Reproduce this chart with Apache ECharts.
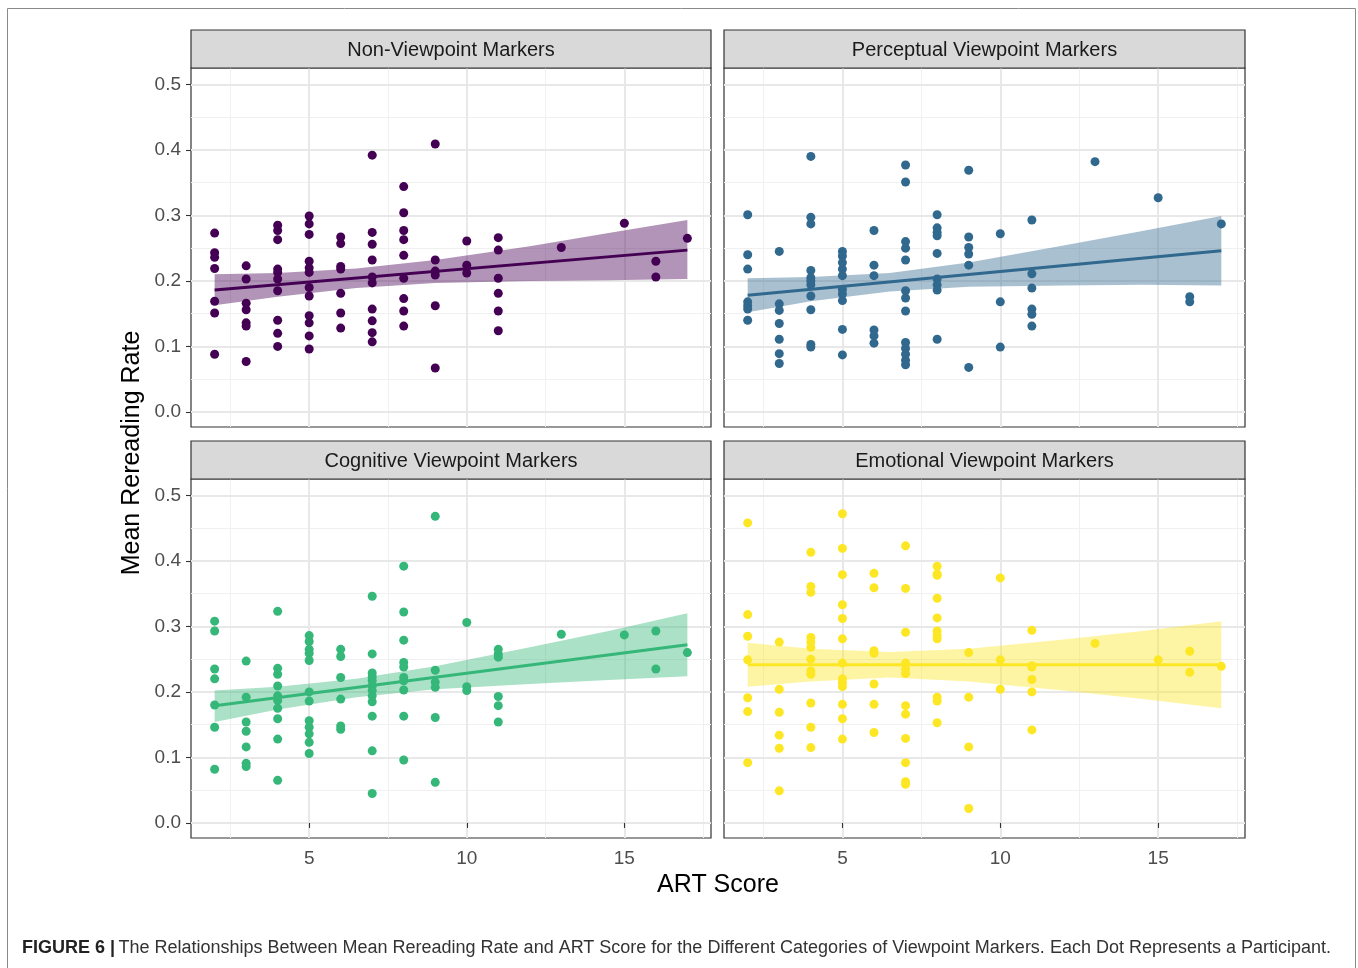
<!DOCTYPE html>
<html><head><meta charset="utf-8">
<script src="https://cdn.jsdelivr.net/npm/echarts@6/dist/echarts.min.js"></script>
<style>html,body{margin:0;padding:0;background:#fff}#c{width:1358px;height:968px}</style>
</head><body><div id="c"></div>
<script>
// ART score levels present in every panel
const artScores = [2, 3, 4, 5, 6, 7, 8, 9, 10, 11, 13, 15, 16, 17];

// Mean rereading rates, grouped by ART score (same order as artScores)
const nonViewpointRates = [
  [0.273, 0.243, 0.236, 0.219, 0.169, 0.151, 0.088],
  [0.223, 0.203, 0.166, 0.156, 0.136, 0.131, 0.077],
  [0.285, 0.277, 0.263, 0.218, 0.213, 0.203, 0.185, 0.140, 0.120, 0.100],
  [0.299, 0.287, 0.271, 0.230, 0.220, 0.213, 0.190, 0.177, 0.147, 0.136, 0.116, 0.096],
  [0.267, 0.257, 0.222, 0.218, 0.181, 0.151, 0.128],
  [0.392, 0.274, 0.256, 0.232, 0.206, 0.197, 0.157, 0.139, 0.121, 0.107],
  [0.344, 0.304, 0.277, 0.263, 0.239, 0.204, 0.173, 0.154, 0.131],
  [0.409, 0.232, 0.215, 0.209, 0.162, 0.067],
  [0.261, 0.224, 0.212],
  [0.266, 0.247, 0.204, 0.181, 0.154, 0.124],
  [0.251],
  [0.288],
  [0.230, 0.206],
  [0.265]
];
const perceptualRates = [
  [0.301, 0.240, 0.218, 0.168, 0.162, 0.157, 0.140],
  [0.245, 0.165, 0.155, 0.135, 0.111, 0.089, 0.074],
  [0.390, 0.297, 0.287, 0.216, 0.205, 0.200, 0.194, 0.177, 0.156, 0.103, 0.099],
  [0.245, 0.238, 0.228, 0.218, 0.208, 0.187, 0.180, 0.170, 0.126, 0.087],
  [0.277, 0.224, 0.208, 0.125, 0.116, 0.105],
  [0.377, 0.351, 0.260, 0.250, 0.232, 0.185, 0.174, 0.154, 0.106, 0.097, 0.088, 0.079, 0.072],
  [0.301, 0.281, 0.274, 0.269, 0.242, 0.203, 0.194, 0.186, 0.111],
  [0.369, 0.267, 0.251, 0.241, 0.224, 0.068],
  [0.272, 0.168, 0.099],
  [0.293, 0.211, 0.189, 0.157, 0.149, 0.131],
  [0.382],
  [0.327],
  [0.176, 0.168],
  [0.287]
];
const cognitiveRates = [
  [0.308, 0.293, 0.235, 0.220, 0.180, 0.146, 0.082],
  [0.247, 0.192, 0.154, 0.140, 0.116, 0.091, 0.086],
  [0.323, 0.236, 0.227, 0.209, 0.194, 0.187, 0.175, 0.159, 0.128, 0.065],
  [0.286, 0.277, 0.265, 0.259, 0.248, 0.200, 0.186, 0.156, 0.146, 0.136, 0.123, 0.106],
  [0.265, 0.254, 0.222, 0.189, 0.148, 0.143],
  [0.346, 0.258, 0.229, 0.223, 0.217, 0.209, 0.202, 0.194, 0.185, 0.163, 0.110, 0.045],
  [0.392, 0.322, 0.279, 0.245, 0.238, 0.222, 0.217, 0.203, 0.163, 0.096],
  [0.468, 0.233, 0.215, 0.207, 0.161, 0.062],
  [0.306, 0.208, 0.202],
  [0.265, 0.258, 0.253, 0.193, 0.179, 0.154],
  [0.288],
  [0.287],
  [0.293, 0.235],
  [0.260]
];
const emotionalRates = [
  [0.458, 0.318, 0.285, 0.249, 0.191, 0.170, 0.092],
  [0.276, 0.204, 0.169, 0.134, 0.114, 0.049],
  [0.413, 0.361, 0.352, 0.283, 0.276, 0.268, 0.250, 0.232, 0.227, 0.183, 0.146, 0.115],
  [0.472, 0.419, 0.379, 0.333, 0.312, 0.281, 0.244, 0.220, 0.214, 0.208, 0.181, 0.159, 0.128],
  [0.381, 0.359, 0.263, 0.259, 0.212, 0.181, 0.138],
  [0.423, 0.358, 0.291, 0.244, 0.235, 0.228, 0.179, 0.166, 0.129, 0.092, 0.063, 0.059],
  [0.392, 0.380, 0.378, 0.343, 0.313, 0.293, 0.286, 0.281, 0.192, 0.186, 0.153],
  [0.260, 0.192, 0.116, 0.022],
  [0.374, 0.249, 0.204],
  [0.294, 0.240, 0.238, 0.219, 0.200, 0.142],
  [0.274],
  [0.249],
  [0.262, 0.230],
  [0.239]
];

// Fitted regression lines (value at ART = 2 and ART = 17)
const fitX = [2, 17];
const nonViewpointFit = [0.186, 0.247];
const perceptualFit = [0.178, 0.246];
const cognitiveFit = [0.179, 0.272];
const emotionalFit = [0.2416, 0.2416];

// Confidence bands read at these ART scores
const bandX = [2, 4, 6.5, 9, 12, 14.5, 17];
const nonViewpointUpper = [0.210, 0.212, 0.219, 0.232, 0.253, 0.273, 0.293];
const nonViewpointLower = [0.163, 0.176, 0.189, 0.197, 0.200, 0.201, 0.203];
const perceptualUpper = [0.204, 0.206, 0.212, 0.228, 0.254, 0.276, 0.299];
const perceptualLower = [0.152, 0.169, 0.184, 0.191, 0.193, 0.194, 0.193];
const cognitiveUpper = [0.202, 0.208, 0.220, 0.239, 0.268, 0.293, 0.320];
const cognitiveLower = [0.154, 0.173, 0.192, 0.204, 0.212, 0.218, 0.224];
const emotionalUpper = [0.275, 0.266, 0.261, 0.266, 0.280, 0.293, 0.308];
const emotionalLower = [0.208, 0.216, 0.222, 0.216, 0.202, 0.189, 0.175];

// Titles and ticks
const panelTitles = ['Non-Viewpoint Markers', 'Perceptual Viewpoint Markers', 'Cognitive Viewpoint Markers', 'Emotional Viewpoint Markers'];
const xTicks = [5, 10, 15];
const xMinorTicks = [2.5, 7.5, 12.5, 17.5];
const yTicks = [0, 0.1, 0.2, 0.3, 0.4, 0.5];
const yMinorTicks = [0.05, 0.15, 0.25, 0.35, 0.45];
const xAxisTitle = 'ART Score';
const yAxisTitle = 'Mean Rereading Rate';
const captionBold = 'FIGURE 6 |';
const captionText = 'The Relationships Between Mean Rereading Rate and ART Score for the Different Categories of Viewpoint Markers. Each Dot Represents a Participant.';

const panels = [
  { rates: nonViewpointRates, fit: nonViewpointFit, upper: nonViewpointUpper, lower: nonViewpointLower, color: '#440154' },
  { rates: perceptualRates, fit: perceptualFit, upper: perceptualUpper, lower: perceptualLower, color: '#31688E' },
  { rates: cognitiveRates, fit: cognitiveFit, upper: cognitiveUpper, lower: cognitiveLower, color: '#35B779' },
  { rates: emotionalRates, fit: emotionalFit, upper: emotionalUpper, lower: emotionalLower, color: '#FDE725' }
];

const gridPos = [
  { left: 191, top: 68, width: 520, height: 359 },
  { left: 724, top: 68, width: 521, height: 359 },
  { left: 191, top: 479, width: 520, height: 359 },
  { left: 724, top: 479, width: 521, height: 359 }
];
const FONT = '"Liberation Sans", Arial, Helvetica, sans-serif';

function pointsOf(rates) {
  const out = [];
  rates.forEach((arr, i) => arr.forEach(v => out.push([artScores[i], v])));
  return out;
}

const grids = [], xAxes = [], yAxes = [], series = [], graphics = [];

gridPos.forEach((g, i) => {
  const bottomRow = i >= 2, leftCol = i % 2 === 0;
  grids.push(Object.assign({ show: true, borderColor: '#333333', borderWidth: 1.2, backgroundColor: '#ffffff', containLabel: false }, g));
  xAxes.push({
    type: 'value', gridIndex: i, min: 1.25, max: 17.75,
    splitLine: { show: false }, axisLine: { show: false },
    axisTick: { show: bottomRow, customValues: xTicks, length: 5, lineStyle: { color: '#333333', width: 1.1 } },
    axisLabel: { show: bottomRow, customValues: xTicks, color: '#4d4d4d', fontSize: 19, fontFamily: FONT, margin: 11 }
  });
  yAxes.push({
    type: 'value', gridIndex: i, min: -0.023, max: 0.525,
    splitLine: { show: false }, axisLine: { show: false },
    axisTick: { show: leftCol, customValues: yTicks, length: 5, lineStyle: { color: '#333333', width: 1.1 } },
    axisLabel: { show: leftCol, customValues: yTicks, color: '#4d4d4d', fontSize: 19, fontFamily: FONT, margin: 10,
      formatter: v => Number(v).toFixed(1) }
  });

  const p = panels[i];
  const gridLines = [];
  xMinorTicks.forEach(v => gridLines.push({ xAxis: v, lineStyle: { color: '#f0f0f0', width: 1, type: 'solid' } }));
  yMinorTicks.forEach(v => gridLines.push({ yAxis: v, lineStyle: { color: '#f0f0f0', width: 1, type: 'solid' } }));
  xTicks.forEach(v => gridLines.push({ xAxis: v, lineStyle: { color: '#e8e8e8', width: 2, type: 'solid' } }));
  yTicks.forEach(v => gridLines.push({ yAxis: v, lineStyle: { color: '#e8e8e8', width: 2, type: 'solid' } }));

  series.push({
    type: 'line', xAxisIndex: i, yAxisIndex: i, data: [], z: 0, silent: true, animation: false,
    markLine: { silent: true, z: 0, zlevel: 0, animation: false, symbol: ['none', 'none'], label: { show: false }, emphasis: { disabled: true }, data: gridLines }
  });
  series.push({
    type: 'scatter', xAxisIndex: i, yAxisIndex: i, data: pointsOf(p.rates), symbolSize: 9,
    itemStyle: { color: p.color, opacity: 1 }, z: 3, animation: false
  });
  series.push({
    type: 'custom', xAxisIndex: i, yAxisIndex: i, data: [[bandX[0], p.lower[0]]], z: 4, silent: true, animation: false,
    clip: true,
    renderItem: (params, api) => {
      const pts = [];
      bandX.forEach((x, k) => pts.push(api.coord([x, p.upper[k]])));
      for (let k = bandX.length - 1; k >= 0; k--) pts.push(api.coord([bandX[k], p.lower[k]]));
      return { type: 'polygon', shape: { points: pts, smooth: 0 }, style: { fill: p.color, opacity: 0.42 } };
    }
  });
  series.push({
    type: 'line', xAxisIndex: i, yAxisIndex: i, data: fitX.map((x, k) => [x, p.fit[k]]),
    symbol: 'none', lineStyle: { color: p.color, width: 3 }, z: 5, silent: true, animation: false
  });

  // strip header
  graphics.push({
    type: 'rect', shape: { x: g.left, y: g.top - 38, width: g.width, height: 38 },
    style: { fill: '#d9d9d9', stroke: '#333333', lineWidth: 1.2 }, z: 10
  });
  graphics.push({
    type: 'text', x: g.left + g.width / 2, y: g.top - 18, z: 11,
    style: { text: panelTitles[i], fill: '#1a1a1a', font: '20px ' + FONT, textAlign: 'center', textVerticalAlign: 'middle' }
  });
});

// outer figure frame
graphics.push({ type: 'rect', shape: { x: 7.5, y: 8.5, width: 1348, height: 1000 }, style: { fill: 'none', stroke: '#8a8a8a', lineWidth: 1 }, z: 0 });
// axis titles
graphics.push({ type: 'text', x: 718, y: 885, z: 11,
  style: { text: xAxisTitle, fill: '#000000', font: '25px ' + FONT, textAlign: 'center', textVerticalAlign: 'middle' } });
graphics.push({ type: 'text', x: 132, y: 453, rotation: Math.PI / 2, z: 11,
  style: { text: yAxisTitle, fill: '#000000', font: '25px ' + FONT, textAlign: 'center', textVerticalAlign: 'middle' } });
// caption
graphics.push({ type: 'text', x: 22, y: 948, z: 11,
  style: {
    text: '{b|' + captionBold + '} {r|' + captionText + '}',
    textVerticalAlign: 'middle', textAlign: 'left',
    rich: {
      b: { fontFamily: FONT, fontWeight: 'bold', fontSize: 18, fill: '#222222' },
      r: { fontFamily: FONT, fontSize: 18, fill: '#333333' }
    }
  } });

const chart = echarts.init(document.getElementById('c'), null, { renderer: 'canvas' });
chart.setOption({
  backgroundColor: '#ffffff',
  animation: false,
  grid: grids, xAxis: xAxes, yAxis: yAxes, series: series, graphic: graphics
});
</script></body></html>
